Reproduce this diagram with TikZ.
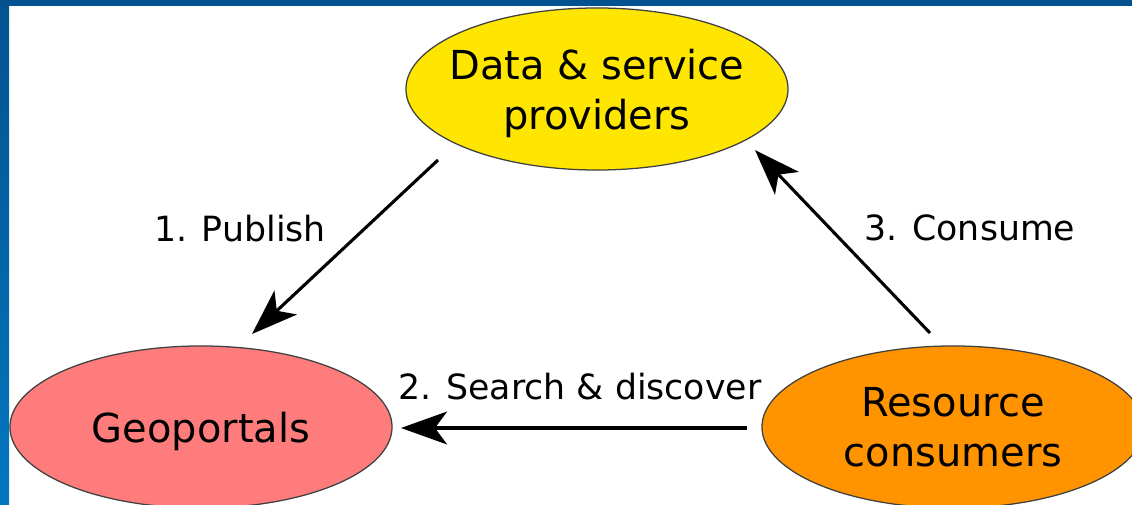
\documentclass[tikz,border=0pt]{standalone}
\usepackage{fontspec}
\setmainfont{DejaVu Sans}
\usepackage{xcolor}
\usetikzlibrary{arrows.meta,calc,shapes.geometric}
\definecolor{provyellow}{HTML}{FFE600}
\definecolor{georose}{HTML}{FF7C7C}
\definecolor{resorange}{HTML}{FF9400}
\definecolor{framedark}{HTML}{03528F}
\definecolor{framelight}{HTML}{0277C0}
\tikzset{%
	party/.style     = {draw=black!75, line width=0.9pt, ellipse, minimum width=9.55cm, minimum height=4.05cm, inner sep=0pt},
	partytext/.style = {align=center, text depth=0pt, font=\fontsize{28.4}{35.6}\selectfont},
	steplabel/.style = {text depth=0pt, font=\fontsize{24.7}{30}\selectfont},
	flow/.style      = {line width=2.2pt, -{Stealth[length=1.15cm, width=0.82cm, inset=0.3cm]}},
}

\begin{document}
\begin{tikzpicture}[x=0.025cm, y=-0.025cm]
	\useasboundingbox (0,0) rectangle (1132,505);
	\fill[white] (0,0) rectangle (1132,505);
	\node[party, fill=provyellow, label={[partytext]center:Data \& service\\providers}] (prov) at (597,89) {};
	\node[party, fill=georose, label={[partytext]center:Geoportals}] (geo) at (201,427) {};
	\node[party, fill=resorange, label={[partytext]center:Resource\\consumers}] (res) at (953,427) {};
	\draw[flow] ($(prov)+(-159,71)$) -- ($(geo)+(51,-93)$);
	\draw[flow] ($(res)+(-206,1)$) -- ($(geo)+(200,1)$);
	\draw[flow] ($(res)+(-23,-94)$) -- ($(prov)+(158,61)$);
	\node[steplabel] (publish) at (240,228) {1. Publish};
	\node[steplabel] (search) at (580,386) {2. Search \& discover};
	\node[steplabel] (consume) at (970,228) {3. Consume};
	% frame
	\fill[framedark] (0,0) rectangle (1132,6);
	\shade[top color=framedark, bottom color=framelight] (0,0) rectangle (9,505);
\end{tikzpicture}
\end{document}
